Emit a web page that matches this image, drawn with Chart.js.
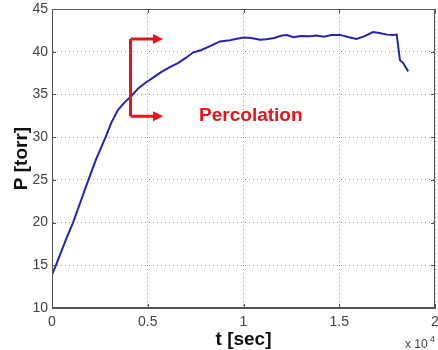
<!DOCTYPE html>
<html>
<head>
<meta charset="utf-8">
<script src="https://cdn.jsdelivr.net/npm/chart.js@4.4.1/dist/chart.umd.min.js"></script>
<style>
  html, body { margin: 0; padding: 0; background: #fff; }
  #wrap { width: 438px; height: 350px; }
</style>
</head>
<body>
<div id="wrap"><canvas id="chart"></canvas></div>
<script>
// time in units of 1e4 sec, pressure in torr
const times = [0, 0.02, 0.05, 0.08, 0.11, 0.15, 0.19, 0.23, 0.28, 0.31, 0.345, 0.38, 0.41, 0.45, 0.49,
  0.53, 0.57, 0.615, 0.66, 0.7, 0.736, 0.78, 0.82, 0.877, 0.92, 0.96, 1.0, 1.04, 1.086, 1.12, 1.16,
  1.2, 1.227, 1.26, 1.3, 1.347, 1.38, 1.42, 1.46, 1.504, 1.55, 1.59, 1.63, 1.676, 1.71, 1.75, 1.78,
  1.80, 1.817, 1.833, 1.86];
const pressure = [13.9, 15.0, 16.7, 18.4, 20.0, 22.5, 25.0, 27.4, 30.0, 31.7, 33.2, 34.1, 34.7, 35.7, 36.4,
  37.0, 37.6, 38.2, 38.7, 39.3, 39.9, 40.2, 40.6, 41.2, 41.3, 41.5, 41.65, 41.6, 41.4, 41.45, 41.6,
  41.9, 41.95, 41.7, 41.85, 41.8, 41.9, 41.75, 41.95, 41.97, 41.7, 41.5, 41.8, 42.3, 42.2, 42.0, 41.95,
  42.0, 39.0, 38.7, 37.7];
const xTicks = [0, 0.5, 1, 1.5, 2];
const yTicks = [10, 15, 20, 25, 30, 35, 40, 45];

const points = times.map((t, i) => ({ x: t, y: pressure[i] }));

const FONT = '"Liberation Sans", Arial, sans-serif';
const RED = '#e8141a';

// frame, inward ticks, labels and the percolation bracket
const decorations = {
  id: 'decorations',
  afterDraw(chart) {
    const ctx = chart.ctx;
    const a = chart.chartArea;
    const xs = chart.scales.x, ys = chart.scales.y;
    ctx.save();

    ctx.strokeStyle = '#555';
    ctx.lineWidth = 1;
    ctx.strokeRect(a.left + 0.5, a.top + 0.5, a.right - a.left - 1, a.bottom - a.top - 1);
    ctx.beginPath();
    xTicks.forEach(v => {
      const px = Math.round(xs.getPixelForValue(v)) + 0.5;
      ctx.moveTo(px, a.bottom); ctx.lineTo(px, a.bottom - 4);
      ctx.moveTo(px, a.top); ctx.lineTo(px, a.top + 4);
    });
    yTicks.forEach(v => {
      const py = Math.round(ys.getPixelForValue(v)) + 0.5;
      ctx.moveTo(a.left, py); ctx.lineTo(a.left + 4, py);
      ctx.moveTo(a.right, py); ctx.lineTo(a.right - 4, py);
    });
    ctx.stroke();

    // axis titles
    ctx.fillStyle = '#111';
    ctx.font = 'bold 19px ' + FONT;
    ctx.textAlign = 'center';
    ctx.textBaseline = 'alphabetic';
    ctx.fillText('t [sec]', (a.left + a.right) / 2, 345);
    ctx.save();
    ctx.translate(27, (a.top + a.bottom) / 2);
    ctx.rotate(-Math.PI / 2);
    ctx.fillText('P [torr]', 0, 0);
    ctx.restore();

    // exponent label
    ctx.fillStyle = '#444';
    ctx.textAlign = 'left';
    ctx.font = '12px ' + FONT;
    ctx.fillText('x 10', 405, 348);
    ctx.font = '9px ' + FONT;
    ctx.fillText('4', 430, 342);

    // bracket with arrows
    const bx = xs.getPixelForValue(0.41);
    const tipX = xs.getPixelForValue(0.58);
    const yTop = ys.getPixelForValue(41.5);
    const yBot = ys.getPixelForValue(32.45);
    ctx.strokeStyle = RED;
    ctx.fillStyle = RED;
    ctx.lineWidth = 3;
    ctx.beginPath();
    ctx.moveTo(bx, yTop); ctx.lineTo(bx, yBot);
    ctx.moveTo(bx, yTop); ctx.lineTo(tipX - 8, yTop);
    ctx.moveTo(bx, yBot); ctx.lineTo(tipX - 8, yBot);
    ctx.stroke();
    [yTop, yBot].forEach(y => {
      ctx.beginPath();
      ctx.moveTo(tipX, y);
      ctx.lineTo(tipX - 10, y - 5);
      ctx.lineTo(tipX - 10, y + 5);
      ctx.closePath();
      ctx.fill();
    });

    ctx.font = 'bold 19px ' + FONT;
    ctx.fillText('Percolation', xs.getPixelForValue(0.768), ys.getPixelForValue(31.9));
    ctx.restore();
  }
};

new Chart(document.getElementById('chart'), {
  type: 'scatter',
  data: {
    datasets: [{
      data: points,
      showLine: true,
      borderColor: '#2424b4',
      borderWidth: 2,
      pointRadius: 0,
      tension: 0
    }]
  },
  options: {
    responsive: true,
    maintainAspectRatio: false,
    animation: false,
    layout: { padding: { top: 9, right: 3, left: 0, bottom: 0 } },
    plugins: { legend: { display: false }, tooltip: { enabled: false } },
    scales: {
      x: {
        type: 'linear',
        min: 0, max: 2,
        afterFit: s => { s.height = 42; s.paddingLeft = 0; s.paddingRight = 0; },
        afterBuildTicks: s => { s.ticks = xTicks.map(v => ({ value: v })); },
        ticks: { color: '#444', font: { family: FONT, size: 14 }, padding: 6, maxRotation: 0,
          callback: v => String(v) },
        grid: { color: '#999', drawTicks: false },
        border: { display: true, color: '#555', dash: [1, 3] }
      },
      y: {
        min: 10, max: 45,
        afterFit: s => { s.width = 52; s.paddingTop = 0; s.paddingBottom = 0; },
        afterBuildTicks: s => { s.ticks = yTicks.map(v => ({ value: v })); },
        ticks: { color: '#444', font: { family: FONT, size: 14 }, padding: 4 },
        grid: { color: '#999', drawTicks: false },
        border: { display: true, color: '#555', dash: [1, 3] }
      }
    }
  },
  plugins: [decorations]
});
</script>
</body>
</html>
